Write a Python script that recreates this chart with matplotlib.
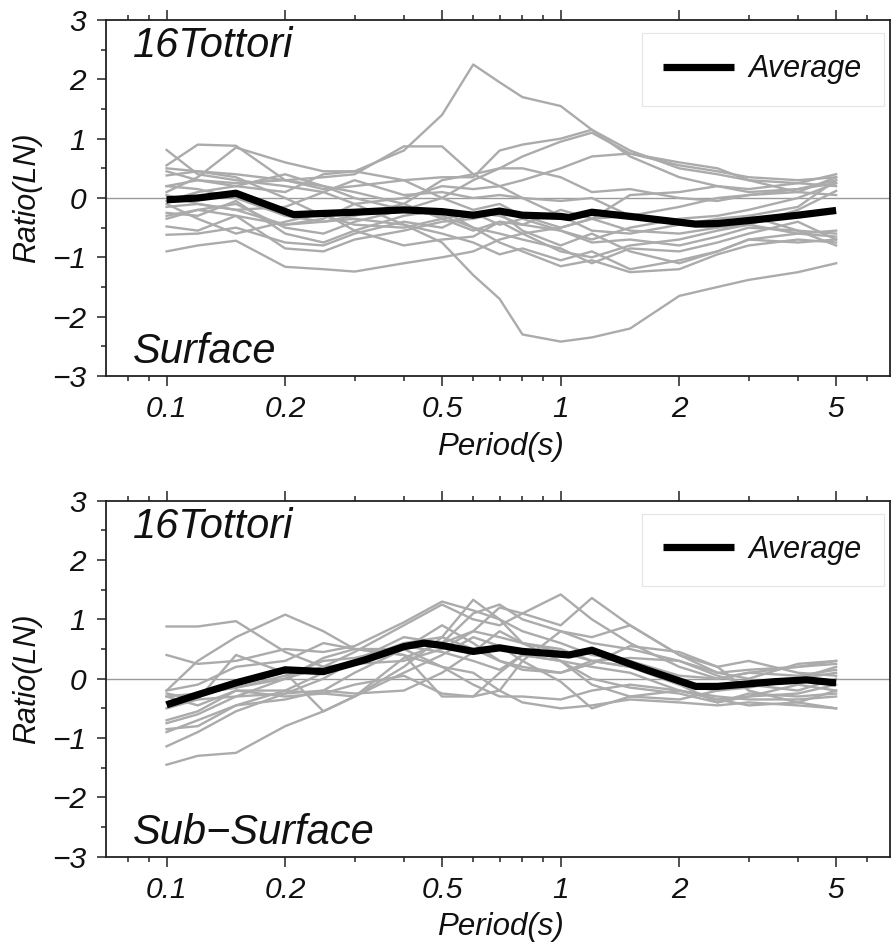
import numpy as np
import matplotlib
matplotlib.use("Agg")
import matplotlib.pyplot as plt
from matplotlib.ticker import FixedLocator, FixedFormatter, MultipleLocator

plt.rcParams['font.family'] = ['Liberation Sans', 'DejaVu Sans']
plt.rcParams['font.style'] = 'italic'
plt.rcParams['axes.unicode_minus'] = True

# ---------------- data ----------------
periods = [0.1, 0.12, 0.15, 0.2, 0.25, 0.3, 0.4, 0.5, 0.6, 0.7, 0.8, 1.0, 1.2, 1.5, 2.0, 2.5, 3.0, 4.0, 5.0]

surface_lines = [
    [0.45, 0.30, 0.20, 0.10, 0.40, 0.45, 0.80, 1.40, 2.25, 1.95, 1.70, 1.55, 1.15, 0.70, 0.35, 0.20, 0.10, 0.15, 0.25],
    [-0.15, -0.10, -0.20, -0.45, -0.40, -0.35, -0.45, -0.75, -1.30, -1.70, -2.30, -2.42, -2.35, -2.20, -1.65, -1.50, -1.38, -1.25, -1.10],
    [0.50, 0.45, 0.40, 0.30, 0.15, 0.20, 0.30, 0.35, 0.35, 0.80, 0.90, 1.00, 1.15, 0.80, 0.50, 0.40, 0.30, 0.25, 0.20],
    [-0.30, -0.20, -0.10, -0.50, -0.60, -0.40, -0.20, 0.00, 0.30, 0.50, 0.70, 0.95, 1.10, 0.75, 0.55, 0.45, 0.35, 0.30, 0.35],
    [0.20, 0.30, 0.25, 0.30, 0.35, 0.40, 0.87, 0.87, 0.40, 0.20, 0.00, -0.30, -0.55, -0.60, -0.45, -0.35, -0.30, -0.55, -0.60],
    [0.10, 0.35, 0.85, 0.60, 0.45, 0.45, 0.30, 0.00, -0.20, -0.10, -0.30, -0.50, -0.35, -0.55, -0.60, -0.50, -0.30, -0.15, 0.30],
    [0.55, 0.90, 0.88, 0.30, 0.20, 0.00, -0.20, -0.30, -0.50, -0.60, -0.70, -0.85, -1.10, -0.85, -0.90, -0.75, -0.60, -0.40, -0.70],
    [0.81, 0.40, 0.30, 0.20, 0.10, -0.10, 0.00, 0.20, 0.15, 0.20, 0.30, 0.50, 0.70, 0.75, 0.60, 0.50, 0.30, 0.10, 0.35],
    [-0.05, 0.10, 0.20, 0.40, 0.20, 0.10, -0.10, -0.35, -0.55, -0.40, -0.60, -0.90, -1.00, -0.80, -0.70, -0.55, -0.45, -0.60, -0.65],
    [-0.25, -0.30, -0.05, -0.60, -0.75, -0.55, -0.30, -0.20, -0.50, -0.75, -0.90, -1.15, -1.05, -1.25, -1.20, -0.95, -0.80, -0.70, -0.75],
    [-0.48, -0.55, -0.30, -0.85, -0.90, -0.70, -0.55, -0.40, -0.35, -0.25, -0.55, -0.80, -0.60, -0.90, -1.10, -0.90, -0.70, -0.60, -0.55],
    [-0.90, -0.80, -0.72, -1.16, -1.20, -1.24, -1.10, -1.00, -0.90, -0.70, -0.60, -0.50, -0.35, -0.30, -0.15, 0.00, 0.05, 0.15, 0.30],
    [-0.62, -0.60, -0.50, -0.75, -0.80, -0.60, -0.40, -0.50, -0.25, -0.30, -0.45, -0.20, -0.35, 0.05, 0.10, 0.20, 0.15, 0.25, 0.40],
    [0.38, 0.45, 0.35, 0.00, -0.30, -0.45, -0.50, -0.35, -0.25, -0.45, -0.35, -0.55, -0.75, -0.70, -0.80, -0.65, -0.50, -0.55, -0.80],
    [0.05, -0.10, -0.20, -0.15, 0.10, 0.30, 0.05, 0.10, 0.00, 0.05, 0.00, -0.05, 0.00, -0.30, -0.45, -0.50, -0.45, -0.20, 0.12],
    [-0.35, -0.20, -0.30, -0.45, -0.35, -0.10, -0.45, -0.60, -0.75, -0.95, -0.85, -1.05, -0.90, -1.20, -1.05, -0.90, -0.70, -0.75, -0.70],
    [0.20, 0.15, 0.00, -0.30, -0.40, -0.30, -0.10, 0.30, 0.40, 0.50, 0.50, 0.35, 0.10, 0.15, 0.00, -0.05, 0.05, 0.10, 0.05],
    [-0.10, -0.35, -0.60, -0.40, -0.25, -0.55, -0.80, -0.70, -0.65, -0.40, -0.45, -0.55, -0.70, -0.50, -0.35, -0.30, -0.20, 0.00, 0.25],
]

subsurface_lines = [
    [0.88, 0.88, 0.97, 0.45, 0.20, 0.25, 0.30, 0.50, 0.80, 0.70, 0.60, 0.45, 0.30, 0.20, -0.10, -0.20, -0.15, 0.00, 0.10],
    [0.40, 0.25, 0.30, 0.50, 0.45, 0.55, 0.95, 1.30, 1.15, 1.00, 0.80, 0.60, 0.40, 0.30, 0.05, 0.00, 0.10, 0.20, 0.30],
    [-0.20, 0.30, 0.70, 1.08, 0.80, 0.50, 0.50, 0.20, -0.10, -0.30, -0.30, -0.35, -0.20, -0.10, -0.20, -0.35, -0.30, -0.10, -0.20],
    [-0.25, -0.35, 0.40, 0.10, -0.55, -0.30, 0.20, 0.70, 1.33, 1.00, 0.60, 0.30, 0.20, 0.10, -0.20, -0.30, -0.35, -0.35, -0.30],
    [-0.75, -0.60, -0.30, 0.00, 0.20, 0.45, 0.90, 1.25, 1.00, 0.90, 1.10, 1.42, 1.00, 0.60, 0.20, 0.00, 0.10, 0.05, 0.15],
    [-0.90, -0.70, -0.45, -0.20, -0.25, -0.30, 0.35, 0.60, 0.80, 1.20, 1.10, 0.90, 1.36, 0.90, 0.40, 0.10, 0.15, 0.20, 0.25],
    [-1.14, -0.90, -0.55, -0.25, 0.00, 0.30, 0.60, 0.70, 0.50, 0.30, 0.20, 0.10, 0.25, 0.55, 0.45, 0.20, -0.20, -0.40, -0.50],
    [-1.45, -1.30, -1.25, -0.80, -0.55, -0.30, 0.10, 0.40, 0.70, 0.55, 0.30, -0.05, -0.50, -0.30, -0.20, -0.35, -0.45, -0.40, -0.20],
    [-0.30, -0.25, -0.15, 0.00, 0.35, 0.50, 0.40, 0.20, 0.10, -0.20, -0.40, -0.50, -0.45, -0.35, -0.40, -0.45, -0.40, -0.45, -0.50],
    [-0.20, -0.10, 0.20, 0.30, 0.60, 0.50, 0.40, -0.30, -0.30, -0.20, 0.30, 0.80, 0.70, 0.90, 0.40, 0.20, 0.30, 0.10, 0.05],
    [-0.50, -0.35, -0.30, -0.25, -0.20, -0.25, -0.20, 0.10, 0.45, 0.80, 0.60, 0.50, 0.30, 0.35, 0.30, 0.10, 0.00, 0.25, 0.30],
    [-0.85, -0.80, -0.45, -0.35, -0.20, 0.10, 0.50, 0.90, 0.60, 0.30, 0.15, 0.10, 0.30, 0.20, -0.10, -0.40, -0.30, -0.25, -0.10],
    [-0.30, -0.45, -0.20, -0.20, 0.10, 0.30, 0.70, 0.60, 1.10, 1.25, 1.00, 0.80, 0.60, 0.50, 0.30, 0.05, -0.10, -0.20, 0.00],
    [-0.40, -0.25, -0.15, 0.05, 0.30, 0.35, 0.55, 0.45, 0.30, 0.15, 0.40, 0.30, 0.00, -0.15, -0.25, -0.40, -0.25, -0.30, -0.25],
    [-0.70, -0.55, -0.20, -0.30, -0.25, -0.10, 0.05, -0.25, -0.30, 0.10, 0.40, 0.30, -0.10, -0.30, -0.35, -0.20, -0.10, 0.00, 0.20],
]

surface_avg_periods = [0.1, 0.12, 0.15, 0.21, 0.3, 0.4, 0.5, 0.6, 0.7, 0.8, 1.0, 1.05, 1.2, 1.5, 2.2, 2.5, 3.0, 4.0, 5.0]
surface_avg = [-0.03, 0.0, 0.08, -0.28, -0.24, -0.20, -0.23, -0.29, -0.22, -0.29, -0.31, -0.33, -0.24, -0.31, -0.44, -0.43, -0.38, -0.29, -0.21]

subsurface_avg_periods = [0.1, 0.12, 0.15, 0.2, 0.25, 0.32, 0.4, 0.45, 0.5, 0.6, 0.7, 0.8, 1.05, 1.2, 1.65, 2.2, 2.5, 3.5, 4.2, 5.0]
subsurface_avg = [-0.44, -0.27, -0.07, 0.15, 0.12, 0.32, 0.54, 0.60, 0.56, 0.46, 0.52, 0.46, 0.40, 0.48, 0.15, -0.13, -0.13, -0.05, -0.02, -0.07]

event_name = "16Tottori"
panel_labels = ["Surface", "Sub\u2212Surface"]
x_major = [0.1, 0.2, 0.5, 1, 2, 5]
x_major_labels = ["0.1", "0.2", "0.5", "1", "2", "5"]
x_minor = [0.08, 0.09, 0.3, 0.4, 0.6, 0.7, 0.8, 0.9, 3, 4, 6]

# ---------------- figure ----------------
W, H = 891, 944
fig = plt.figure(figsize=(W / 100, H / 100), dpi=100)

left = 106 / W
width = (890 - 106) / W
ax_h = 356 / H
bottoms = [1 - 376 / H, 1 - 856.7 / H]

panels = [
    (surface_lines, surface_avg_periods, surface_avg, panel_labels[0]),
    (subsurface_lines, subsurface_avg_periods, subsurface_avg, panel_labels[1]),
]

grey = '#ababab'
for (lines, avg_p, avg_v, plabel), b in zip(panels, bottoms):
    ax = fig.add_axes([left, b, width, ax_h])
    ax.set_xscale('log')
    ax.set_xlim(0.0702, 6.85)
    ax.set_ylim(-3, 3)
    ax.axhline(0, color='#9a9a9a', lw=1.0, zorder=1)
    for ln in lines:
        ax.plot(periods, ln, color=grey, lw=1.7, zorder=2)
    ax.plot(avg_p, avg_v, color='black', lw=5.2, zorder=3, label='Average',
            solid_joinstyle='round', solid_capstyle='butt')

    ax.xaxis.set_major_locator(FixedLocator(x_major))
    ax.xaxis.set_major_formatter(FixedFormatter(x_major_labels))
    ax.xaxis.set_minor_locator(FixedLocator(x_minor))
    ax.xaxis.set_minor_formatter(FixedFormatter([''] * len(x_minor)))
    ax.yaxis.set_major_locator(MultipleLocator(1))
    ax.yaxis.set_minor_locator(MultipleLocator(0.5))

    ax.tick_params(axis='x', which='both', direction='out', top=True, bottom=True,
                   labelsize=21.5, pad=7, width=1.1, colors='#222222', labelcolor='#111111')
    ax.tick_params(axis='x', which='major', length=7)
    ax.tick_params(axis='x', which='minor', length=3.5)
    ax.tick_params(axis='y', which='both', direction='out', left=True, right=False,
                   labelsize=21.5, pad=8, width=1.1, colors='#222222', labelcolor='#111111')
    ax.tick_params(axis='y', which='major', length=6.5)
    ax.tick_params(axis='y', which='minor', length=3.5)
    for s in ax.spines.values():
        s.set_linewidth(1.3)
        s.set_color('#222222')

    ax.text(27 / 784, (356 - 37) / 356, event_name, transform=ax.transAxes,
            fontsize=30, va='baseline', ha='left', color='#111111')
    ax.text(27 / 784, 13 / 356, plabel, transform=ax.transAxes,
            fontsize=30, va='baseline', ha='left', color='#111111')

    leg = ax.legend(loc='upper left', bbox_to_anchor=((642 - 106) / 784, (356 - 13) / 356),
                    borderaxespad=0, fontsize=22, handlelength=2.3, handletextpad=0.5,
                    borderpad=0.7, fancybox=False, framealpha=1, edgecolor='#e4e4e4')
    leg.get_frame().set_linewidth(0.8)
    for t in leg.get_texts():
        t.set_color('#111111')

# axis labels
for yc, xl in [(198, 447), (679, 927)]:
    fig.text(27 / W, 1 - yc / H, "Ratio(LN)", rotation=90, ha='center', va='center',
             fontsize=22, color='#111111')
    fig.text(500 / W, 1 - xl / H, "Period(s)", ha='center', va='center',
             fontsize=22.5, color='#111111')

fig.savefig('out.png', dpi=100)
